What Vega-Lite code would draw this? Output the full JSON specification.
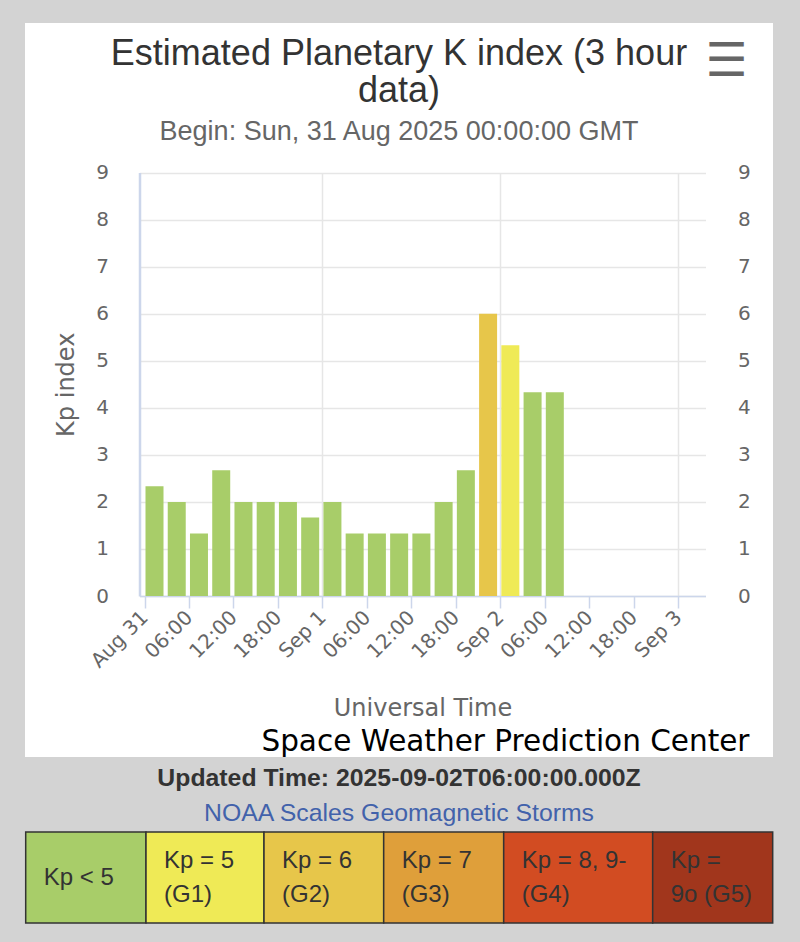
{
  "$schema": "https://vega.github.io/schema/vega-lite/v6.json",
  "background": "#d3d3d3",
  "padding": {"left": 24, "top": 23, "right": 28, "bottom": 21},
  "spacing": 8,
  "datasets": {
    "kp": [
      {"time": "2025-08-31T00:00:00Z", "kp": 2.33, "level": "Kp < 5"},
      {"time": "2025-08-31T03:00:00Z", "kp": 2.0, "level": "Kp < 5"},
      {"time": "2025-08-31T06:00:00Z", "kp": 1.33, "level": "Kp < 5"},
      {"time": "2025-08-31T09:00:00Z", "kp": 2.67, "level": "Kp < 5"},
      {"time": "2025-08-31T12:00:00Z", "kp": 2.0, "level": "Kp < 5"},
      {"time": "2025-08-31T15:00:00Z", "kp": 2.0, "level": "Kp < 5"},
      {"time": "2025-08-31T18:00:00Z", "kp": 2.0, "level": "Kp < 5"},
      {"time": "2025-08-31T21:00:00Z", "kp": 1.67, "level": "Kp < 5"},
      {"time": "2025-09-01T00:00:00Z", "kp": 2.0, "level": "Kp < 5"},
      {"time": "2025-09-01T03:00:00Z", "kp": 1.33, "level": "Kp < 5"},
      {"time": "2025-09-01T06:00:00Z", "kp": 1.33, "level": "Kp < 5"},
      {"time": "2025-09-01T09:00:00Z", "kp": 1.33, "level": "Kp < 5"},
      {"time": "2025-09-01T12:00:00Z", "kp": 1.33, "level": "Kp < 5"},
      {"time": "2025-09-01T15:00:00Z", "kp": 2.0, "level": "Kp < 5"},
      {"time": "2025-09-01T18:00:00Z", "kp": 2.67, "level": "Kp < 5"},
      {"time": "2025-09-01T21:00:00Z", "kp": 6.0, "level": "G2"},
      {"time": "2025-09-02T00:00:00Z", "kp": 5.33, "level": "G1"},
      {"time": "2025-09-02T03:00:00Z", "kp": 4.33, "level": "Kp < 5"},
      {"time": "2025-09-02T06:00:00Z", "kp": 4.33, "level": "Kp < 5"}
    ],
    "scales": [
      {"level": "Kp < 5", "label": "Kp < 5", "kp_from": 0, "kp_to": 5},
      {"level": "G1", "label": "Kp = 5\n(G1)", "kp_from": 5, "kp_to": 6},
      {"level": "G2", "label": "Kp = 6\n(G2)", "kp_from": 6, "kp_to": 7},
      {"level": "G3", "label": "Kp = 7\n(G3)", "kp_from": 7, "kp_to": 8},
      {"level": "G4", "label": "Kp = 8, 9-\n(G4)", "kp_from": 8, "kp_to": 9},
      {"level": "G5", "label": "Kp =\n9o (G5)", "kp_from": 9, "kp_to": 10}
    ]
  },
  "vconcat": [
    {
      "width": 748,
      "height": 734,
      "view": {"fill": "#ffffff", "stroke": null},
      "title": {
        "text": ["Estimated Planetary K index (3 hour", "data)"],
        "subtitle": "Begin: Sun, 31 Aug 2025 00:00:00 GMT",
        "anchor": "middle",
        "frame": "group",
        "offset": -122.5,
        "font": "Liberation Sans",
        "fontSize": 36,
        "fontWeight": "normal",
        "color": "#333333",
        "lineHeight": 37,
        "subtitleFont": "Liberation Sans",
        "subtitleFontSize": 27,
        "subtitleColor": "#666666",
        "subtitlePadding": 9
      },
      "layer": [
        {
          "data": {"name": "kp"},
          "mark": {"type": "bar", "width": 18, "xOffset": 10},
          "encoding": {
            "x": {
              "field": "time",
              "type": "temporal",
              "scale": {
                "type": "utc",
                "domain": [1756598400000, 1756868400000],
                "range": [114.5, 680.5]
              },
              "axis": {
                "orient": "bottom",
                "offset": -161,
                "values": [1756598400000, 1756620000000, 1756641600000, 1756663200000, 1756684800000, 1756706400000, 1756728000000, 1756749600000, 1756771200000, 1756792800000, 1756814400000, 1756836000000, 1756857600000],
                "labelExpr": "utchours(datum.value) === 0 ? utcFormat(datum.value, '%b %-d') : utcFormat(datum.value, '%H:%M')",
                "labelAngle": -45,
                "labelAlign": "right",
                "labelBaseline": "middle",
                "labelPadding": 6,
                "labelFlush": false,
                "labelOverlap": false,
                "labelFont": "DejaVu Sans",
                "labelFontSize": 20,
                "labelColor": "#666666",
                "tickSize": 12,
                "tickColor": "#ccd6eb",
                "tickWidth": 1.5,
                "domainColor": "#ccd6eb",
                "domainWidth": 1.5,
                "grid": false,
                "title": "Universal Time",
                "titleFont": "DejaVu Sans",
                "titleFontSize": 24,
                "titleColor": "#666666",
                "titleFontWeight": "normal",
                "titleY": 119,
                "titleBaseline": "alphabetic"
              }
            },
            "y": {
              "field": "kp",
              "type": "quantitative",
              "scale": {"domain": [0, 9], "range": [573, 149.5], "nice": false, "zero": true},
              "axis": {
                "orient": "left",
                "offset": -114.5,
                "values": [0, 1, 2, 3, 4, 5, 6, 7, 8, 9],
                "grid": true,
                "gridColor": "#e6e6e6",
                "gridWidth": 1.5,
                "domain": true,
                "domainColor": "#ccd6eb",
                "domainWidth": 2.5,
                "ticks": false,
                "labelPadding": 31,
                "labelFont": "DejaVu Sans",
                "labelFontSize": 20,
                "labelColor": "#666666",
                "title": "Kp index",
                "titleFont": "DejaVu Sans",
                "titleFontSize": 24,
                "titleColor": "#666666",
                "titleFontWeight": "normal",
                "titlePadding": 17
              }
            },
            "color": {
              "field": "level",
              "type": "nominal",
              "scale": {
                "domain": ["Kp < 5", "G1", "G2", "G3", "G4", "G5"],
                "range": ["#a8cd69", "#efea56", "#e7c64a", "#df9f3a", "#d24c22", "#a1361c"]
              },
              "legend": null
            }
          }
        },
        {
          "data": {"name": "kp"},
          "mark": {"type": "point", "opacity": 0},
          "encoding": {
            "x": {
              "field": "time",
              "type": "temporal",
              "axis": {
                "orient": "top",
                "values": [1756684800000, 1756771200000, 1756857600000],
                "grid": true,
                "gridColor": "#e6e6e6",
                "gridWidth": 1.5,
                "domain": false,
                "ticks": false,
                "labels": false,
                "title": "Space Weather Prediction Center",
                "titleFont": "DejaVu Sans",
                "titleFontSize": 29.5,
                "titleColor": "#000000",
                "titleFontWeight": "normal",
                "titleAnchor": "end",
                "titleAlign": "right",
                "titleX": 724,
                "titleY": 727,
                "titleBaseline": "alphabetic"
              }
            },
            "y": {
              "field": "kp",
              "type": "quantitative",
              "axis": {
                "orient": "right",
                "offset": -67.5,
                "values": [0, 1, 2, 3, 4, 5, 6, 7, 8, 9],
                "grid": false,
                "domain": false,
                "ticks": false,
                "labelPadding": 32,
                "labelFont": "DejaVu Sans",
                "labelFontSize": 20,
                "labelColor": "#666666",
                "title": null
              }
            }
          }
        },
        {
          "data": {"values": [{"icon": "☰"}]},
          "mark": {"type": "text", "font": "DejaVu Sans", "fontSize": 47, "fontWeight": "bold", "color": "#666666", "align": "center", "baseline": "middle"},
          "encoding": {
            "x": {"datum": 1756881000000, "type": "temporal", "axis": null},
            "y": {"datum": 11.35, "type": "quantitative", "axis": null},
            "text": {"field": "icon"}
          }
        }
      ],
      "resolve": {"axis": {"x": "independent", "y": "independent"}}
    },
    {
      "width": 748,
      "height": 91,
      "data": {"name": "scales"},
      "title": {
        "text": "Updated Time: 2025-09-02T06:00:00.000Z",
        "subtitle": "NOAA Scales Geomagnetic Storms",
        "anchor": "middle",
        "frame": "group",
        "offset": 5,
        "font": "Liberation Sans",
        "fontSize": 24.8,
        "fontWeight": "bold",
        "color": "#333333",
        "subtitleFont": "Liberation Sans",
        "subtitleFontSize": 24.8,
        "subtitleColor": "#4262ab",
        "subtitlePadding": 11
      },
      "layer": [
        {
          "mark": {"type": "rect", "stroke": "#333333", "strokeWidth": 1.5},
          "encoding": {
            "x": {
              "field": "kp_from",
              "type": "quantitative",
              "scale": {"domain": [0, 5, 6, 7, 8, 9, 10], "range": [0.7, 121, 239, 358.7, 478.7, 627.7, 747.7], "nice": false, "zero": false},
              "axis": null
            },
            "x2": {"field": "kp_to"},
            "color": {
              "field": "level",
              "type": "nominal",
              "scale": {
                "domain": ["Kp < 5", "G1", "G2", "G3", "G4", "G5"],
                "range": ["#a8cd69", "#efea56", "#e7c64a", "#df9f3a", "#d24c22", "#a1361c"]
              },
              "legend": null
            }
          }
        },
        {
          "transform": [{"filter": "datum.level === 'Kp < 5'"}],
          "mark": {"type": "text", "align": "left", "dx": 18, "baseline": "middle", "font": "Liberation Sans", "fontSize": 24, "color": "#333333"},
          "encoding": {
            "x": {"field": "kp_from", "type": "quantitative", "axis": null},
            "text": {"field": "label"}
          }
        },
        {
          "transform": [{"filter": "datum.level !== 'Kp < 5'"}],
          "mark": {"type": "text", "align": "left", "dx": 18, "dy": -17, "baseline": "middle", "lineBreak": "\n", "lineHeight": 34, "font": "Liberation Sans", "fontSize": 24, "color": "#333333"},
          "encoding": {
            "x": {"field": "kp_from", "type": "quantitative", "axis": null},
            "text": {"field": "label"}
          }
        }
      ]
    }
  ],
  "config": {
    "view": {"stroke": null}
  }
}
